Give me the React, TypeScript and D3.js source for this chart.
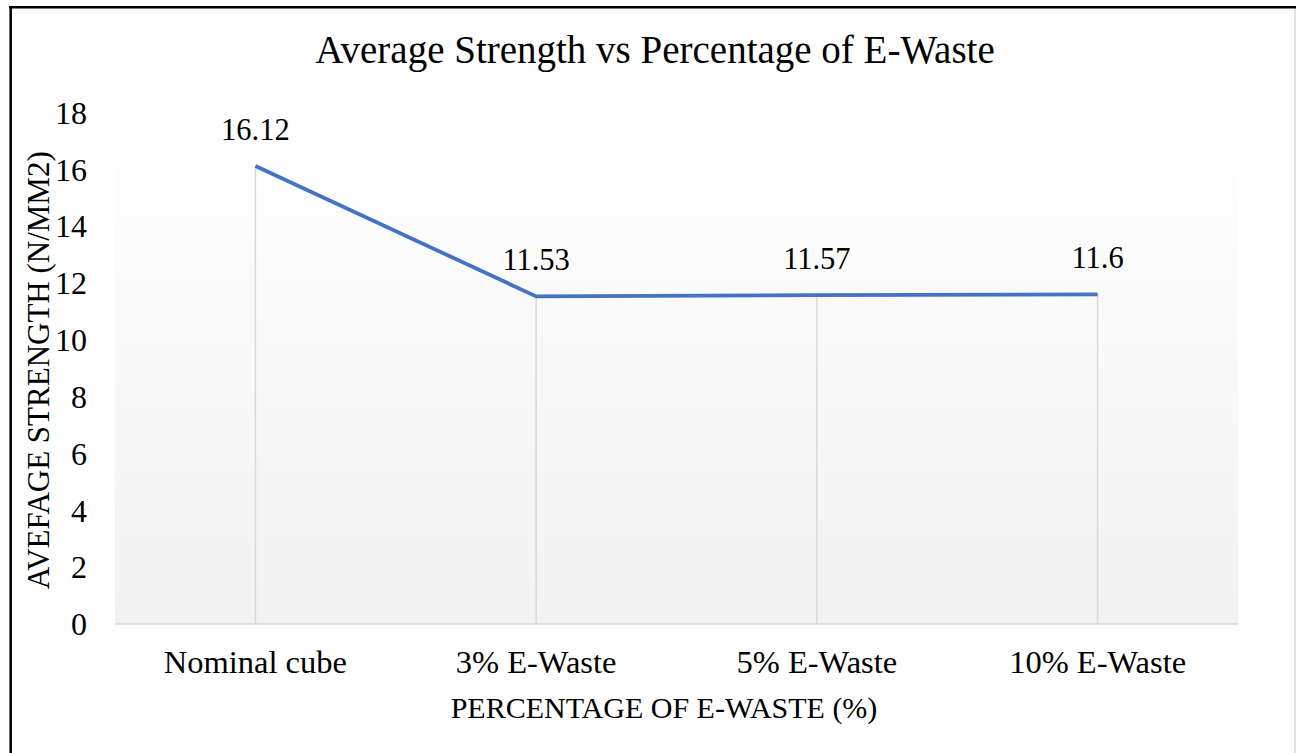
import React from "react";
import * as d3 from "d3";

const categories = ["Nominal cube", "3% E-Waste", "5% E-Waste", "10% E-Waste"];
const values = [16.12, 11.53, 11.57, 11.6];
const valueLabels = ["16.12", "11.53", "11.57", "11.6"];
const yTicks = [0, 2, 4, 6, 8, 10, 12, 14, 16, 18];

const W = 1296;
const H = 753;
const FONT = "'Liberation Serif', 'Times New Roman', serif";

export default function App() {
  const left = 115;
  const right = 1238;
  const top = 112.5;
  const bottom = 624;

  const x = d3.scaleBand<string>().domain(categories).range([left, right]).padding(0);
  const y = d3.scaleLinear().domain([0, 18]).range([bottom, top]);
  const cx = (c: string) => (x(c) as number) + x.bandwidth() / 2;

  const line = d3
    .line<number>()
    .x((_, i) => cx(categories[i]))
    .y((v) => y(v));

  return (
    <svg
      width={W}
      height={H}
      style={{ position: "absolute", left: 0, top: 0, display: "block", background: "#fff" }}
    >
      <defs>
        <linearGradient id="bg" x1="0" y1="0" x2="0" y2="1">
          <stop offset="0" stopColor="#ffffff" />
          <stop offset="1" stopColor="#f2f2f2" />
        </linearGradient>
      </defs>
      <rect x={0} y={0} width={W} height={H} fill="#fff" />
      {/* frame */}
      <line x1={1295} x2={1295} y1={8} y2={H} stroke="#d9d9d9" strokeWidth={1.5} />
      <line x1={9} x2={W} y1={7.2} y2={7.2} stroke="#000" strokeWidth={2.5} />
      <line x1={10.7} x2={10.7} y1={6} y2={H} stroke="#000" strokeWidth={2.5} />

      {/* plot background */}
      <rect x={left} y={top} width={right - left} height={bottom - top} fill="url(#bg)" />

      {/* title */}
      <text x={655} y={63} textAnchor="middle" fontFamily={FONT} fontSize={39} fill="#000">
        Average Strength vs Percentage of E-Waste
      </text>

      {/* drop lines */}
      {categories.map((c, i) => (
        <line
          key={c}
          x1={cx(c)}
          x2={cx(c)}
          y1={y(values[i])}
          y2={bottom}
          stroke="#d9d9d9"
          strokeWidth={1.5}
        />
      ))}

      {/* axis line */}
      <line x1={left} x2={right} y1={bottom} y2={bottom} stroke="#d9d9d9" strokeWidth={1.5} />

      {/* y tick labels */}
      {yTicks.map((t) => (
        <text
          key={t}
          x={87}
          y={y(t)}
          dy="0.35em"
          textAnchor="end"
          fontFamily={FONT}
          fontSize={32}
          fill="#000"
        >
          {t}
        </text>
      ))}

      {/* category labels */}
      {categories.map((c) => (
        <text key={c} x={cx(c)} y={673} textAnchor="middle" fontFamily={FONT} fontSize={32.5} fill="#000">
          {c}
        </text>
      ))}

      {/* series line */}
      <path d={line(values) || ""} fill="none" stroke="#4472c4" strokeWidth={3.8} strokeLinejoin="round" />

      {/* data labels */}
      {categories.map((c, i) => (
        <text
          key={c}
          x={cx(c)}
          y={y(values[i]) - 26}
          textAnchor="middle"
          fontFamily={FONT}
          fontSize={30.5}
          fill="#000"
        >
          {valueLabels[i]}
        </text>
      ))}

      {/* axis titles */}
      <text x={664} y={718} textAnchor="middle" fontFamily={FONT} fontSize={30} fill="#000">
        PERCENTAGE OF E-WASTE (%)
      </text>
      <text
        transform={`translate(49, ${(top + bottom) / 2 + 2}) rotate(-90)`}
        textAnchor="middle"
        fontFamily={FONT}
        fontSize={31}
        fill="#000"
      >
        AVEFAGE STRENGTH (N/MM2)
      </text>
    </svg>
  );
}
